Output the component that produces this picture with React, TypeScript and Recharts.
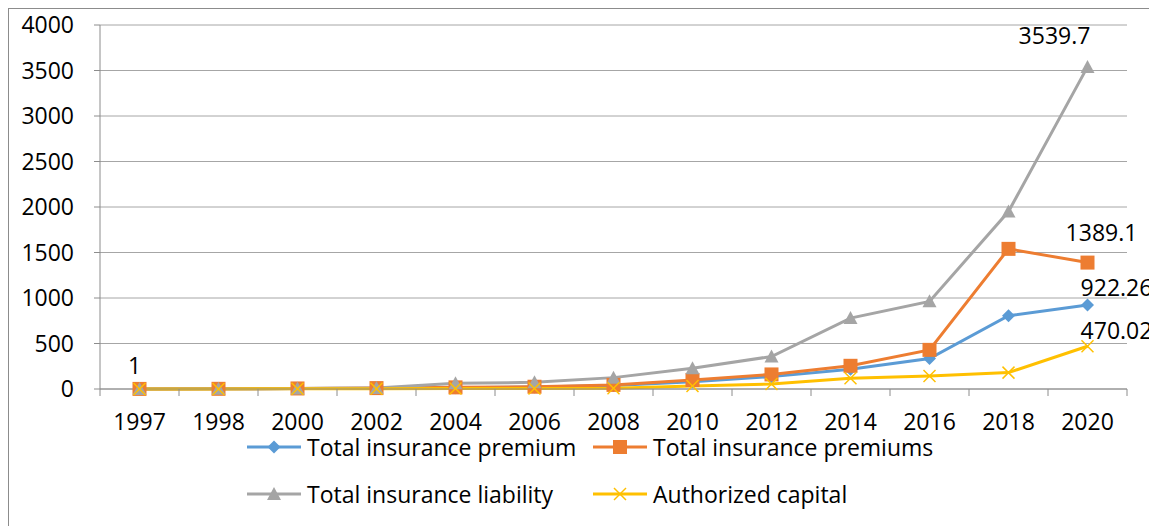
import React from "react";
import {
  LineChart,
  Line,
  XAxis,
  YAxis,
  CartesianGrid,
  Legend,
  LabelList,
} from "recharts";

const years = ["1997", "1998", "2000", "2002", "2004", "2006", "2008", "2010", "2012", "2014", "2016", "2018", "2020"];
const premium = [1, 2, 5, 8, 15, 22, 38, 80, 136, 217, 335, 805, 922.26];
const premiums = [1, 2, 6, 10, 18, 25, 45, 99, 160, 255, 430, 1540, 1389.1];
const liability = [1, 2, 5, 10, 62, 73, 125, 228, 357, 779, 963, 1950, 3539.7];
const capital = [1, 1, 2, 3, 5, 6, 8, 33, 55, 118, 143, 180, 470.02];
const yTicks = [0, 500, 1000, 1500, 2000, 2500, 3000, 3500, 4000];

const data = years.map((y, i) => ({
  idx: i,
  year: y,
  premium: premium[i],
  premiums: premiums[i],
  liability: liability[i],
  capital: capital[i],
}));

const xTicks: number[] = [];
for (let i = -1; i < years.length; i++) {
  xTicks.push(i + 0.5);
  if (i + 1 < years.length) xTicks.push(i + 1);
}
xTicks.sort((a, b) => a - b);

const BLUE = "#5B9BD5";
const ORANGE = "#ED7D31";
const GRAY = "#A5A5A5";
const YELLOW = "#FFC000";
const AXIS = "#8C8C8C";
const GRID = "#A6A6A6";
const FONT = "'Open Sans', sans-serif";
const W = 1160;

const Marker = ({ shape, cx, cy, color }: any) => {
  if (shape === "diamond") {
    return <polygon points={`${cx},${cy - 6.5} ${cx + 6.5},${cy} ${cx},${cy + 6.5} ${cx - 6.5},${cy}`} fill={color} />;
  }
  if (shape === "square") {
    return <rect x={cx - 7} y={cy - 7} width={14} height={14} fill={color} />;
  }
  if (shape === "triangle") {
    return <polygon points={`${cx},${cy - 7} ${cx + 7},${cy + 6} ${cx - 7},${cy + 6}`} fill={color} />;
  }
  return (
    <g stroke={color} strokeWidth={1.5}>
      <line x1={cx - 6} y1={cy - 6} x2={cx + 6} y2={cy + 6} />
      <line x1={cx - 6} y1={cy + 6} x2={cx + 6} y2={cy - 6} />
    </g>
  );
};

const makeDot = (shape: string, color: string) => (props: any) => {
  const { cx, cy, index } = props;
  if (cx == null || cy == null) return <g key={`d-${shape}-${index}`} />;
  return (
    <g key={`d-${shape}-${index}`}>
      <Marker shape={shape} cx={cx} cy={cy} color={color} />
    </g>
  );
};

const makeLabel = (offsets: Record<number, [number, number]>) => (props: any) => {
  const { x, y, value, index } = props;
  const off = offsets[index];
  if (!off) return null;
  return (
    <text
      key={`lbl-${index}`}
      x={x + off[0]}
      y={y + off[1]}
      textAnchor="middle"
      dominantBaseline="central"
      fontSize={23}
      fontFamily={FONT}
      fill="#000"
    >
      {String(value)}
    </text>
  );
};

const XTick = (props: any) => {
  const { x, y, payload } = props;
  const v = payload.value;
  if (Number.isInteger(v)) {
    return (
      <text x={x} y={y + 41} textAnchor="middle" fontSize={23} fontFamily={FONT} fill="#000">
        {years[v]}
      </text>
    );
  }
  return <line x1={x} x2={x} y1={y} y2={y + 7} stroke={AXIS} strokeWidth={1} />;
};

const legendItems = [
  { name: "Total insurance premium", color: BLUE, shape: "diamond", left: 238, top: 18 },
  { name: "Total insurance premiums", color: ORANGE, shape: "square", left: 584, top: 18 },
  { name: "Total insurance liability", color: GRAY, shape: "triangle", left: 238, top: 65 },
  { name: "Authorized capital", color: YELLOW, shape: "cross", left: 584, top: 65 },
];

const LegendContent = () => (
  <div style={{ position: "relative", width: W, height: 97 }}>
    {legendItems.map((it) => (
      <div
        key={it.name}
        style={{
          position: "absolute",
          left: it.left,
          top: it.top - 16,
          height: 32,
          display: "flex",
          alignItems: "center",
          whiteSpace: "nowrap",
        }}
      >
        <svg width={54} height={20} style={{ display: "block" }}>
          <line x1={0} y1={10} x2={54} y2={10} stroke={it.color} strokeWidth={3} />
          <Marker shape={it.shape} cx={27} cy={10} color={it.color} />
        </svg>
        <span style={{ marginLeft: 6, fontSize: 23, lineHeight: "32px", color: "#000", fontFamily: FONT }}>
          {it.name}
        </span>
      </div>
    ))}
  </div>
);

export default function App() {
  return (
    <>
      <style>{"html,body{overflow:hidden}"}</style>
      <div
        style={{
          width: W,
          height: 520,
          border: `1px solid ${AXIS}`,
          fontFamily: FONT,
          overflow: "hidden",
        }}
      >
        <LineChart
          width={W}
          height={517}
          data={data}
          margin={{ top: 16, right: W - 1118, left: 0, bottom: 0 }}
        >
          <CartesianGrid horizontal vertical={false} stroke={GRID} strokeWidth={1} />
          <XAxis
            dataKey="idx"
            type="number"
            domain={[-0.5, years.length - 0.5]}
            ticks={xTicks}
            interval={0}
            tick={<XTick />}
            tickLine={false}
            tickSize={0}
            tickMargin={0}
            axisLine={{ stroke: AXIS }}
            height={40}
          />
          <YAxis
            domain={[0, 4000]}
            ticks={yTicks}
            interval={0}
            width={91}
            tickSize={6}
            tickMargin={20}
            tickLine={{ stroke: AXIS }}
            axisLine={{ stroke: AXIS }}
            tick={{ fontSize: 23, fill: "#000", fontFamily: FONT }}
          />
          <Legend verticalAlign="bottom" wrapperStyle={{ left: 0, bottom: 0, width: W, height: 97 }} content={<LegendContent />} />
          <Line
            dataKey="premium"
            name="Total insurance premium"
            stroke={BLUE}
            strokeWidth={3}
            dot={makeDot("diamond", BLUE)}
            isAnimationActive={false}
          >
            <LabelList dataKey="premium" content={makeLabel({ 0: [-5, -24], 12: [29, -18] })} />
          </Line>
          <Line
            dataKey="premiums"
            name="Total insurance premiums"
            stroke={ORANGE}
            strokeWidth={3}
            dot={makeDot("square", ORANGE)}
            isAnimationActive={false}
          >
            <LabelList dataKey="premiums" content={makeLabel({ 12: [14, -31] })} />
          </Line>
          <Line
            dataKey="liability"
            name="Total insurance liability"
            stroke={GRAY}
            strokeWidth={3}
            dot={makeDot("triangle", GRAY)}
            isAnimationActive={false}
          >
            <LabelList dataKey="liability" content={makeLabel({ 12: [-33, -32] })} />
          </Line>
          <Line
            dataKey="capital"
            name="Authorized capital"
            stroke={YELLOW}
            strokeWidth={3}
            dot={makeDot("cross", YELLOW)}
            isAnimationActive={false}
          >
            <LabelList dataKey="capital" content={makeLabel({ 12: [29, -16] })} />
          </Line>
        </LineChart>
      </div>
    </>
  );
}
